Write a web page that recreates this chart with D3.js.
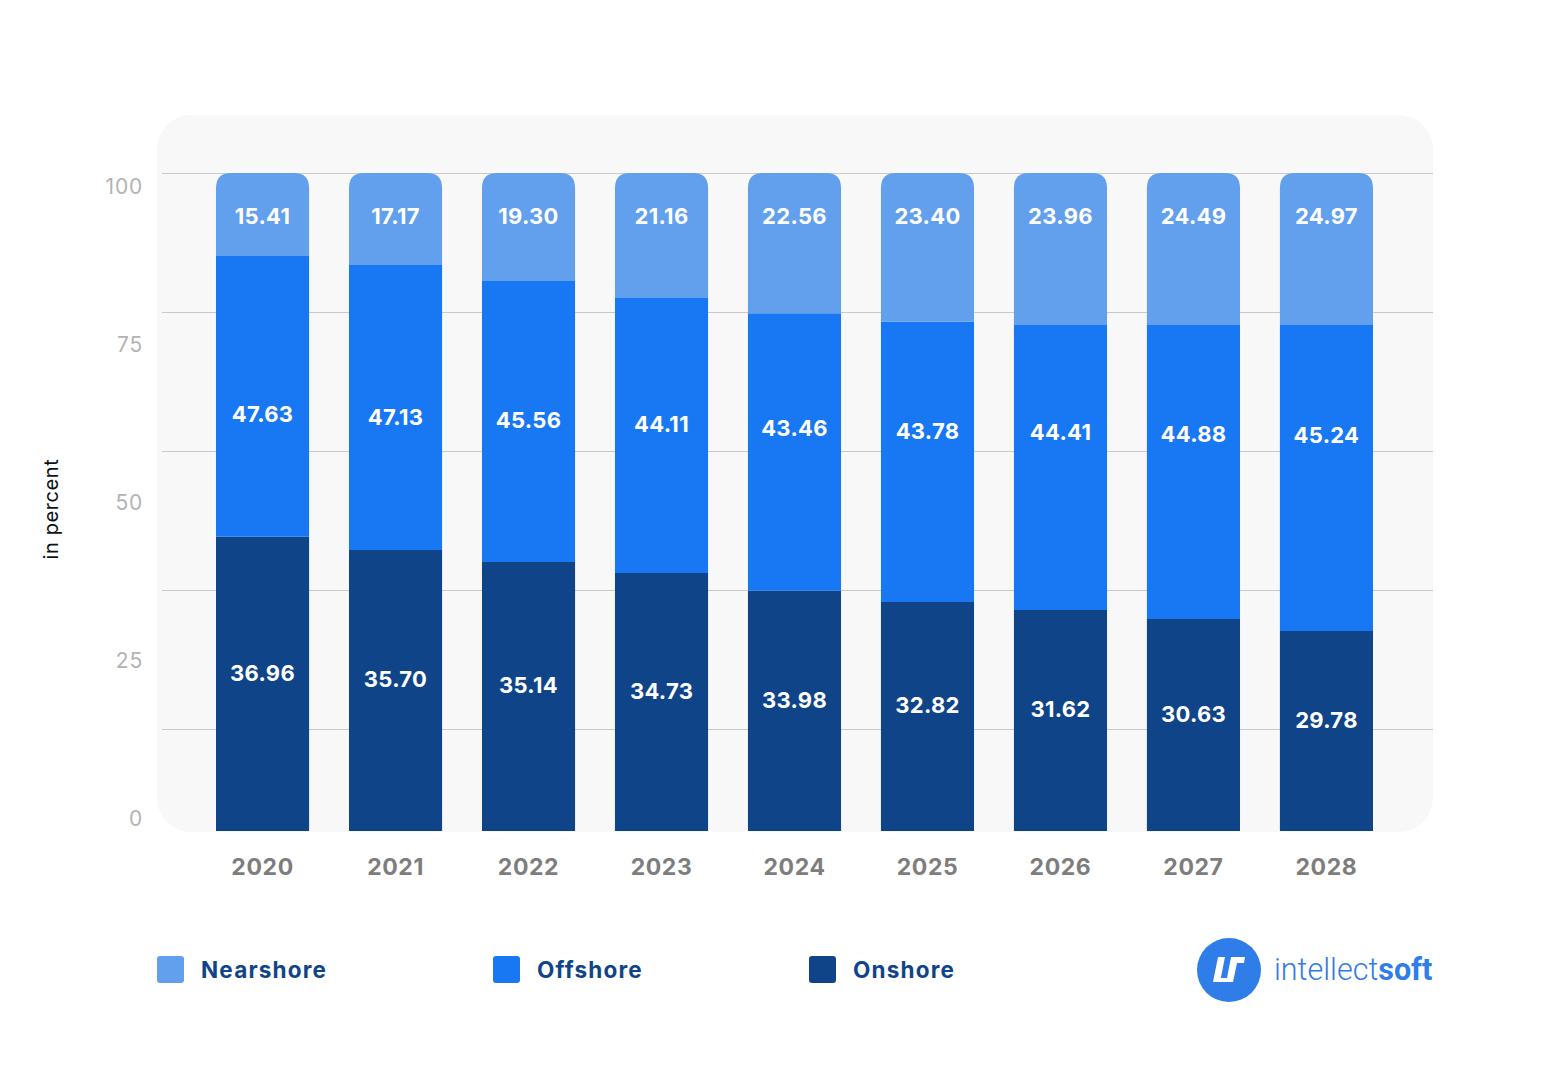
<!DOCTYPE html>
<html>
<head>
<meta charset="utf-8">
<script src="https://cdn.jsdelivr.net/npm/d3@7"></script>
<style>
  html, body { margin: 0; padding: 0; background: #ffffff; }
  svg { display: block; }
</style>
</head>
<body>
<svg id="chart" width="1550" height="1070"></svg>
<script>
// ---------- data ----------
const years = ["2020", "2021", "2022", "2023", "2024", "2025", "2026", "2027", "2028"];
const seriesNames = ["Nearshore", "Offshore", "Onshore"];

// printed values (labels in each segment)
const nearshoreLabels = [15.41, 17.17, 19.30, 21.16, 22.56, 23.40, 23.96, 24.49, 24.97];
const offshoreLabels  = [47.63, 47.13, 45.56, 44.11, 43.46, 43.78, 44.41, 44.88, 45.24];
const onshoreLabels   = [36.96, 35.70, 35.14, 34.73, 33.98, 32.82, 31.62, 30.63, 29.78];

// segment heights as drawn in the picture (share of the 0–100 bar)
const onshoreBar   = [44.7, 42.7, 40.9, 39.2, 36.5, 34.8, 33.6, 32.2, 30.4];
const offshoreBar  = [42.7, 43.3, 42.7, 41.8, 42.2, 42.6, 43.3, 44.7, 46.5];
const nearshoreBar = [12.6, 14.0, 16.4, 19.0, 21.3, 22.6, 23.1, 23.1, 23.1];

const yTicks = [0, 25, 50, 75, 100];
const yTitle = "in percent";

// ---------- setup ----------
const colors = { Nearshore: "#629fec", Offshore: "#1877f2", Onshore: "#0f4489" };
const svg = d3.select("#chart");
const labelFont = "Inter, 'Open Sans', sans-serif";

const panel = { x0: 157, x1: 1433, y0: 115, y1: 832 };

const x = d3.scaleBand().domain(years).range([216, 1373]).paddingInner(0.3).paddingOuter(0);
const y = d3.scaleLinear().domain([0, 100]).range([831, 173]);          // bars
const yGrid = d3.scaleLinear().domain([0, 100]).range([729, 173]);      // gridlines
const yLabel = d3.scaleLinear().domain([0, 100]).range([819, 187]);     // tick labels

// panel background
svg.append("rect")
  .attr("x", panel.x0).attr("y", panel.y0)
  .attr("width", panel.x1 - panel.x0).attr("height", panel.y1 - panel.y0)
  .attr("rx", 34).attr("ry", 34)
  .attr("fill", "#f8f8f8");

// gridlines
svg.append("g").selectAll("line").data(yTicks).join("line")
  .attr("x1", 162).attr("x2", panel.x1)
  .attr("y1", d => Math.round(yGrid(d)) + 0.5).attr("y2", d => Math.round(yGrid(d)) + 0.5)
  .attr("stroke", "#c9c9c9").attr("stroke-width", 1);

// y tick labels
const yAxis = d3.axisLeft(yLabel).tickValues(yTicks).tickSize(0).tickPadding(0);
const gy = svg.append("g").attr("transform", "translate(143,0)").call(yAxis);
gy.select(".domain").remove();
gy.selectAll("text")
  .attr("font-family", labelFont)
  .attr("font-size", 21)
  .attr("letter-spacing", 0.8)
  .attr("fill", "#b3b3b3");

// y title
svg.append("text")
  .attr("transform", "translate(58,509) rotate(-90)")
  .attr("text-anchor", "middle")
  .attr("font-family", labelFont)
  .attr("font-size", 20)
  .attr("letter-spacing", 0.6)
  .attr("fill", "#111")
  .text(yTitle);

// ---------- bars ----------
const rows = years.map((yr, i) => ({
  year: yr,
  on: onshoreBar[i], off: offshoreBar[i], near: nearshoreBar[i],
  onL: onshoreLabels[i], offL: offshoreLabels[i], nearL: nearshoreLabels[i]
}));
const stack = d3.stack().keys(["on", "off", "near"])(rows);
const keyToName = { on: "Onshore", off: "Offshore", near: "Nearshore" };

function topRounded(x0, y0, w, h, r) {
  return `M${x0},${y0 + h} L${x0},${y0 + r} Q${x0},${y0} ${x0 + r},${y0} L${x0 + w - r},${y0} Q${x0 + w},${y0} ${x0 + w},${y0 + r} L${x0 + w},${y0 + h} Z`;
}

const bw = x.bandwidth();
stack.forEach(layer => {
  const g = svg.append("g");
  g.selectAll("path").data(layer).join("path")
    .attr("fill", colors[keyToName[layer.key]])
    .attr("d", d => {
      const x0 = x(d.data.year), y0 = y(d[1]), h = y(d[0]) - y(d[1]);
      if (layer.key === "near") return topRounded(x0, y0, bw, h, 15);
      return `M${x0},${y0}h${bw}v${h}h${-bw}Z`;
    });
});

// segment labels
function labelY(layerKey, d) {
  const top = y(d[1]), bot = y(d[0]), mid = (top + bot) / 2;
  if (layerKey === "near") return y(100) + 43;
  if (layerKey === "off") return 0.74 * y(61.4) + 0.26 * mid - 5;
  return mid - 11;
}
stack.forEach(layer => {
  svg.append("g").selectAll("text").data(layer).join("text")
    .attr("x", d => x(d.data.year) + bw / 2)
    .attr("y", d => labelY(layer.key, d))
    .attr("dy", "0.36em")
    .attr("text-anchor", "middle")
    .attr("font-family", labelFont)
    .attr("font-weight", 700)
    .attr("font-size", 22)
    .attr("letter-spacing", 0.3)
    .attr("fill", "#ffffff")
    .text(d => d3.format(".2f")(d.data[layer.key + "L"]));
});

// x labels
const xAxis = d3.axisBottom(x).tickSize(0).tickPadding(0);
const gx = svg.append("g").attr("transform", "translate(0,867)").call(xAxis);
gx.select(".domain").remove();
gx.selectAll("text")
  .attr("dy", "0.36em")
  .attr("font-family", labelFont)
  .attr("font-weight", 700)
  .attr("font-size", 23)
  .attr("letter-spacing", 0.6)
  .attr("fill", "#7d7d7d");

// ---------- legend ----------
const legendX = [157, 493, 809];
const lg = svg.append("g").selectAll("g").data(seriesNames).join("g")
  .attr("transform", (d, i) => `translate(${legendX[i]},956)`);
lg.append("rect").attr("width", 27).attr("height", 27).attr("rx", 3)
  .attr("fill", d => colors[d]);
lg.append("text").attr("x", 44).attr("y", 14).attr("dy", "0.36em")
  .attr("font-family", labelFont).attr("font-weight", 700).attr("font-size", 22.5)
  .attr("letter-spacing", 1.2)
  .attr("fill", "#0f4489").text(d => d);

// ---------- logo ----------
const logo = svg.append("g");
logo.append("circle").attr("cx", 1229).attr("cy", 970).attr("r", 32).attr("fill", "#2f7de9");
logo.append("path")
  .attr("d", "M1218,957 L1225,957 L1220,982 L1213,982 Z M1231,957 L1245,957 L1244,963 L1237,963 L1233,982 L1214,982 L1215,978 L1227,978 Z")
  .attr("fill", "#ffffff");
const lt = logo.append("text").attr("x", 1274).attr("y", 980)
  .attr("font-family", "Roboto, sans-serif").attr("font-size", 30.5).attr("fill", "#2f7de9");
lt.append("tspan").attr("font-weight", 300).text("intellect");
lt.append("tspan").attr("font-weight", 700).text("soft");
</script>
</body>
</html>
